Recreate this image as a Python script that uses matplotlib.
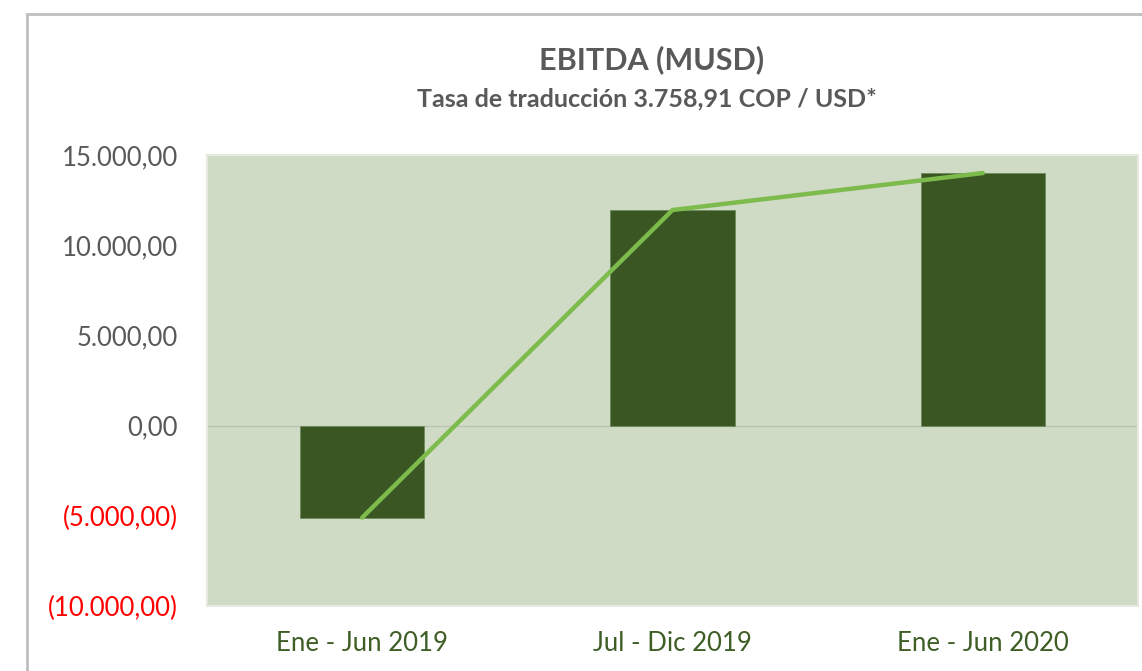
"""EBITDA (MUSD) bar + line chart, Excel-style look."""
import matplotlib
matplotlib.use("Agg")
import matplotlib.pyplot as plt
from matplotlib.patches import Rectangle
from matplotlib.ticker import FuncFormatter

plt.rcParams["font.family"] = ["Lato", "DejaVu Sans"]

PERIODS = ["Ene - Jun 2019", "Jul - Dic 2019", "Ene - Jun 2020"]
EBITDA = [-5100, 11950, 14000]
YTICKS = [-10000, -5000, 0, 5000, 10000, 15000]

BG = "#CFDBC5"
BAR = "#3A5623"
LINE = "#7CBB4C"
GREY = "#595959"
XLAB = "#3F5E26"


def _fmt(v, _pos=None):
    s = f"{abs(v):,.2f}".replace(",", "X").replace(".", ",").replace("X", ".")
    return f"({s})" if v < 0 else s


fig = plt.figure(figsize=(11.42, 6.71), dpi=100)
ax = fig.add_axes([207 / 1142, 1 - 606 / 671, 931 / 1142, 451 / 671])
ax.set_facecolor(BG)

x = list(range(len(PERIODS)))
ax.bar(x, EBITDA, width=0.4, color=BAR, edgecolor="#6E8A5C", linewidth=0.6, zorder=3)
ax.plot(x, EBITDA, color=LINE, lw=3.2, solid_capstyle="round", zorder=4)
ax.axhline(0, color="#B9C4B2", lw=1, zorder=2)

ax.set_xlim(-0.5, 2.5)
ax.set_ylim(-10000, 15000)
ax.set_yticks(YTICKS)
ax.yaxis.set_major_formatter(FuncFormatter(_fmt))
ax.set_xticks(x)
ax.set_xticklabels(PERIODS)
ax.tick_params(axis="both", length=0, labelsize=18.5)
ax.tick_params(axis="y", pad=21, labelcolor=GREY)
ax.tick_params(axis="x", pad=18, labelcolor=XLAB)
for lbl, v in zip(ax.get_yticklabels(), YTICKS):
    if v < 0:
        lbl.set_color("#FF0000")
for s in ax.spines.values():
    s.set_color("#E4EADF")
    s.set_linewidth(1.5)

fig.text(652 / 1142, 1 - 60 / 671, "EBITDA (MUSD)", ha="center", va="center",
         fontsize=22, fontweight="bold", color=GREY)
fig.text(647 / 1142, 1 - 99 / 671, "Tasa de traducción 3.758,91 COP / USD*", ha="center",
         va="center", fontsize=18, fontweight="bold", color=GREY)

# outer chart-area frame (runs off the right and bottom edges)
fig.patches.append(Rectangle((27 / 1142, -0.05), 1.1, 1 - 14 / 671 + 0.05,
                             transform=fig.transFigure, fill=False,
                             edgecolor="#BFBFBF", linewidth=2))

fig.savefig("out.png", dpi=100)
